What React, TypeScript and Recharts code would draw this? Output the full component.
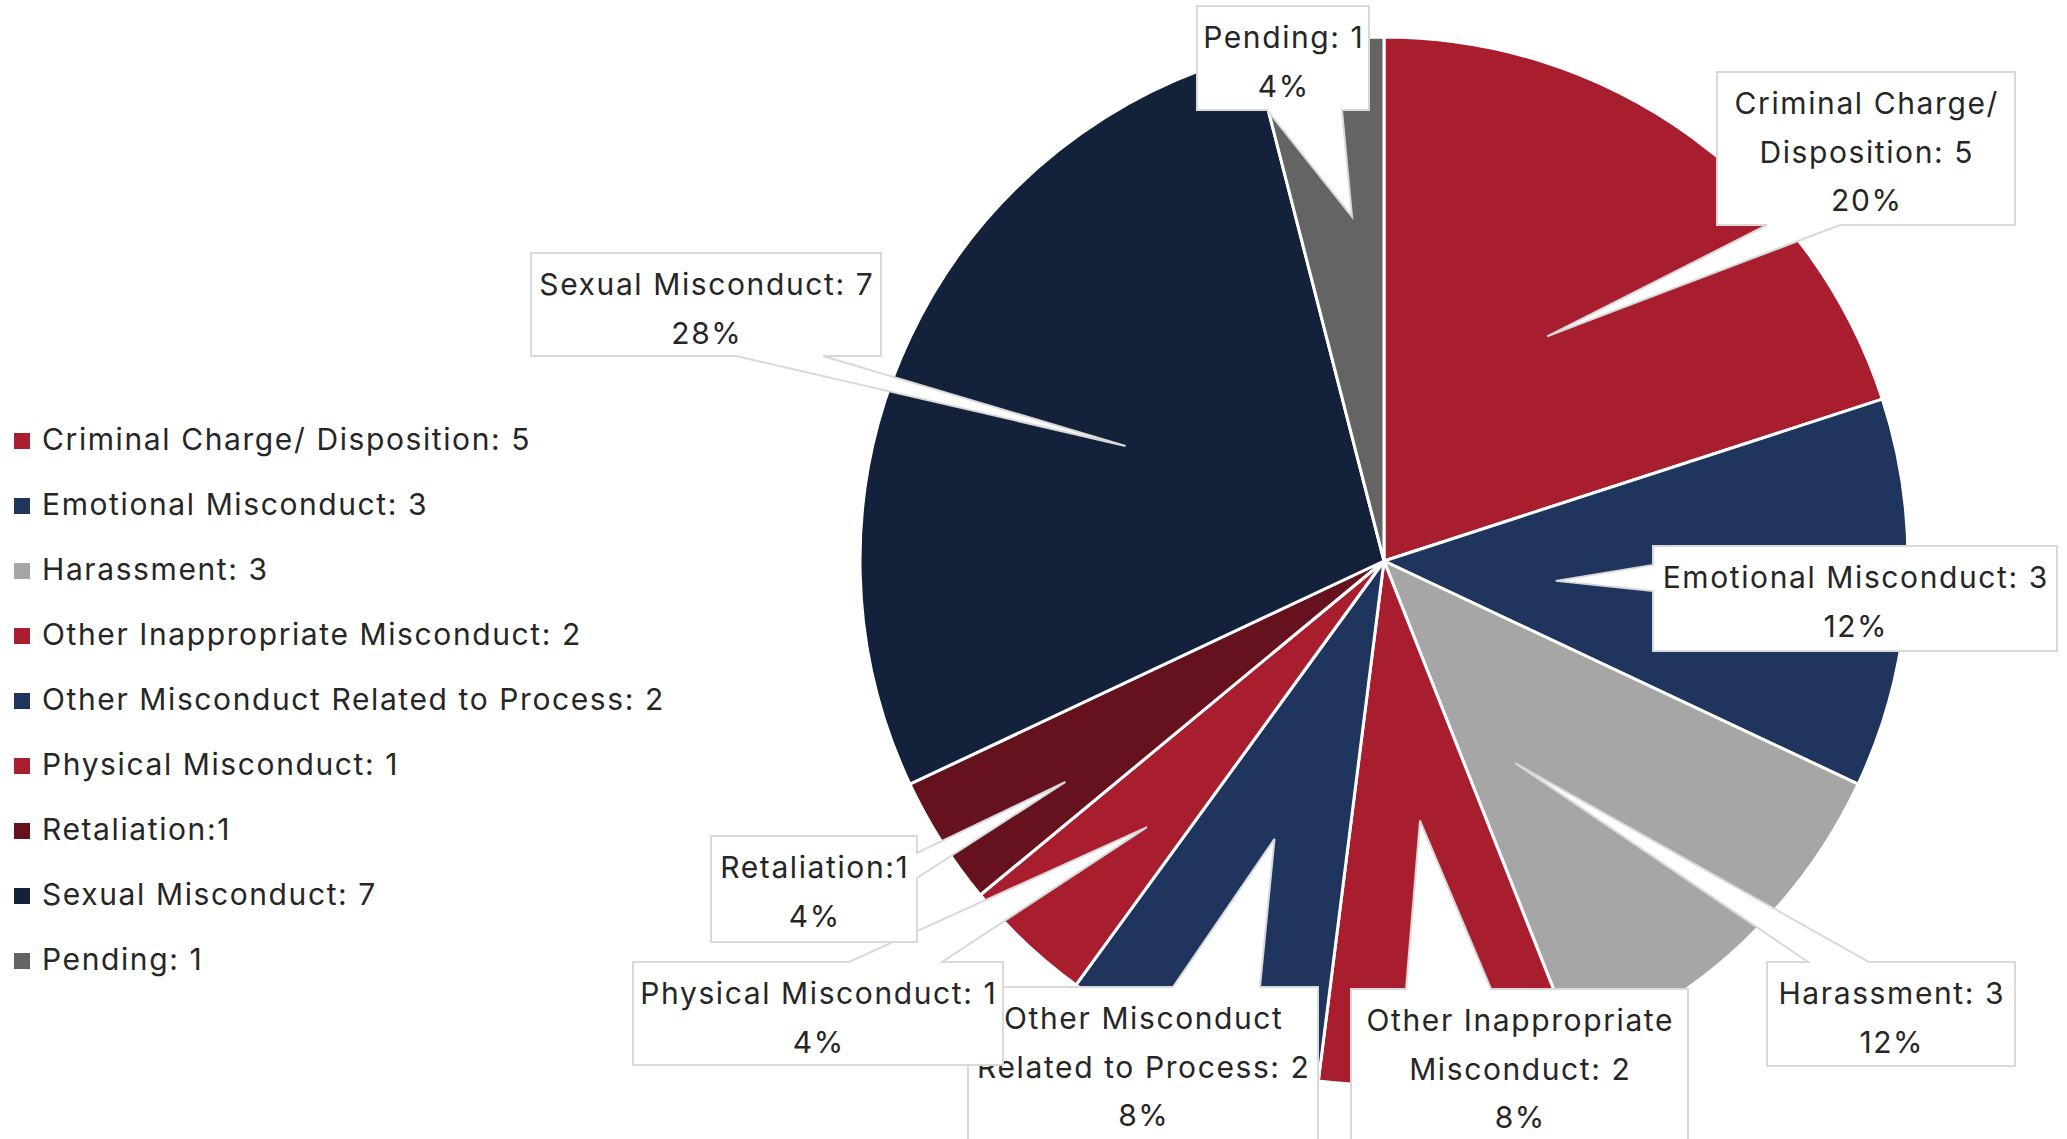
import { PieChart, Pie, Cell, Legend } from "recharts";

const CATEGORIES = [
	"Criminal Charge/ Disposition",
	"Emotional Misconduct",
	"Harassment",
	"Other Inappropriate Misconduct",
	"Other Misconduct Related to Process",
	"Physical Misconduct",
	"Retaliation",
	"Sexual Misconduct",
	"Pending",
];
const VALUES = [5, 3, 3, 2, 2, 1, 1, 7, 1];
// the source writes "Retaliation:1" without a space
const SEPARATORS = [": ", ": ", ": ", ": ", ": ", ": ", ":", ": ", ": "];

const COLORS = [
	"#A81E2E",
	"#1F355E",
	"#A6A6A6",
	"#A81E2E",
	"#1F355E",
	"#A81E2E",
	"#65121E",
	"#14213A",
	"#646464",
];

const FONT = "Inter, 'Noto Sans', sans-serif";
const SPACING = 1.6; // Inter is narrower than the original geometric face
const TEXT = "#262626";
const BORDER = "#D9D9D9";
const RAD = Math.PI / 180;

type Side = "top" | "right" | "bottom" | "left";
interface Callout {
	dx: number; // box offset from pie centre
	dy: number;
	w: number;
	h: number;
	side: Side; // edge the pointer leaves from
	a: number; // pointer base along that edge
	b: number;
	tipDeg: number; // tip angle shift from mid angle, clockwise
	tipR: number; // tip radius as share of outer radius
	wrap?: number; // words on first line
}

const CALLOUTS: Callout[] = [
	{ dx: 333, dy: -489, w: 298, h: 153, side: "bottom", a: 50, b: 123, tipDeg: 0, tipR: 0.53, wrap: 2 },
	{ dx: 269, dy: -15, w: 404, h: 105, side: "left", a: 19, b: 45, tipDeg: 3.0, tipR: 0.33 },
	{ dx: 383, dy: 401, w: 248, h: 104, side: "top", a: 41, b: 102, tipDeg: 10.2, tipR: 0.46 },
	{ dx: -33, dy: 428, w: 337, h: 165, side: "top", a: 55, b: 140, tipDeg: -0.7, tipR: 0.5, wrap: 2 },
	{ dx: -416, dy: 426, w: 350, h: 165, side: "top", a: 205, b: 292, tipDeg: -0.1, tipR: 0.57, wrap: 2 },
	{ dx: -751, dy: 401, w: 370, h: 103, side: "top", a: 216, b: 309, tipDeg: -1.5, tipR: 0.68 },
	{ dx: -673, dy: 275, w: 206, h: 106, side: "right", a: 17, b: 42, tipDeg: -2.35, tipR: 0.74 },
	{ dx: -853, dy: -308, w: 350, h: 103, side: "bottom", a: 205, b: 292, tipDeg: -1.2, tipR: 0.54 },
	{ dx: -187, dy: -555, w: 172, h: 104, side: "bottom", a: 70, b: 145, tipDeg: 1.9, tipR: 0.66 },
];

const chartData = CATEGORIES.map((name, i) => ({ name, value: VALUES[i] }));

function calloutPath(x0: number, y0: number, w: number, h: number, c: Callout, tx: number, ty: number) {
	const x1 = x0 + w;
	const y1 = y0 + h;
	let pts: number[][];
	if (c.side === "top") {
		pts = [[x0, y0], [x0 + c.a, y0], [tx, ty], [x0 + c.b, y0], [x1, y0], [x1, y1], [x0, y1]];
	} else if (c.side === "right") {
		pts = [[x0, y0], [x1, y0], [x1, y0 + c.a], [tx, ty], [x1, y0 + c.b], [x1, y1], [x0, y1]];
	} else if (c.side === "bottom") {
		pts = [[x0, y0], [x1, y0], [x1, y1], [x0 + c.b, y1], [tx, ty], [x0 + c.a, y1], [x0, y1]];
	} else {
		pts = [[x0, y0], [x1, y0], [x1, y1], [x0, y1], [x0, y0 + c.b], [tx, ty], [x0, y0 + c.a]];
	}
	return "M" + pts.map((p) => p.join(",")).join("L") + "Z";
}

function renderCallout(props: any) {
	const { cx, cy, outerRadius, midAngle, index, value, percent } = props;
	const c = CALLOUTS[index];
	const x0 = cx + c.dx;
	const y0 = cy + c.dy;
	const ang = (midAngle - c.tipDeg) * RAD;
	const tx = cx + outerRadius * c.tipR * Math.cos(ang);
	const ty = cy - outerRadius * c.tipR * Math.sin(ang);

	const words = `${CATEGORIES[index]}${SEPARATORS[index]}${value}`.split(" ");
	const lines = c.wrap
		? [words.slice(0, c.wrap).join(" "), words.slice(c.wrap).join(" ")]
		: [words.join(" ")];
	lines.push(`${Math.round(percent * 100)}%`);

	return (
		<g key={`callout-${index}`}>
			<path d={calloutPath(x0, y0, c.w, c.h, c, tx, ty)} fill="#fff" stroke={BORDER} strokeWidth={2} />
			{lines.map((t, i) => (
				<text
					key={i}
					x={x0 + c.w / 2 + SPACING / 2}
					y={y0 + 31 + i * 48.5}
					textAnchor="middle"
					dominantBaseline="central"
					fontFamily={FONT}
					fontSize={30}
					letterSpacing={SPACING}
					fill={TEXT}
				>
					{t}
				</text>
			))}
		</g>
	);
}

const renderLegend = () => (
	<div style={{ fontFamily: FONT, fontSize: 30, color: TEXT, letterSpacing: SPACING }}>
		{CATEGORIES.map((name, i) => (
			<div key={name} style={{ height: 64.9, display: "flex", alignItems: "center" }}>
				<span
					style={{
						width: 16,
						height: 16,
						background: COLORS[i],
						marginLeft: 14,
						marginRight: 12,
						marginTop: 4,
						flex: "none",
					}}
				/>
				<span style={{ whiteSpace: "nowrap", lineHeight: "30px" }}>
					{name}
					{SEPARATORS[i]}
					{VALUES[i]}
				</span>
			</div>
		))}
	</div>
);

export default function App() {
	return (
		<div style={{ position: "absolute", left: 0, top: 0, background: "#fff" }}>
			<PieChart width={2067} height={1139} margin={{ top: 0, right: 0, bottom: 0, left: 0 }}>
				<Pie
					data={chartData}
					dataKey="value"
					nameKey="name"
					cx={1384}
					cy={561}
					outerRadius={524}
					startAngle={90}
					endAngle={-270}
					stroke="#fff"
					strokeWidth={3}
					label={renderCallout}
					labelLine={false}
					isAnimationActive={false}
				>
					{chartData.map((d, i) => (
						<Cell key={d.name} fill={COLORS[i]} />
					))}
				</Pie>
				<Legend
					layout="vertical"
					align="center"
					verticalAlign="middle"
					content={renderLegend}
					wrapperStyle={{ left: 0, top: 407, width: 760 }}
				/>
			</PieChart>
		</div>
	);
}
